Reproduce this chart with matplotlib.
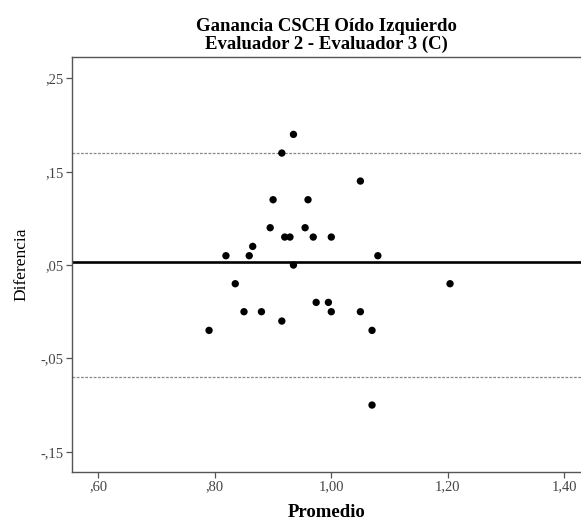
# Bland-Altman: Ganancia CSCH oído izquierdo, evaluador 2 vs evaluador 3
import numpy as np
import matplotlib
matplotlib.use("Agg")
import matplotlib.pyplot as plt
import matplotlib.ticker as ticker

promedio = [0.935, 0.915, 1.050, 0.900, 0.960, 0.895, 0.955, 0.920, 0.929, 0.969,
            1.000, 0.865, 0.819, 0.859, 1.080, 0.935, 0.835, 0.974, 0.995, 0.850,
            0.880, 1.000, 1.050, 0.915, 0.790, 1.070, 1.204, 1.070]
diferencia = [0.19, 0.17, 0.14, 0.12, 0.12, 0.09, 0.09, 0.08, 0.08, 0.08,
              0.08, 0.07, 0.06, 0.06, 0.06, 0.05, 0.03, 0.01, 0.01, 0.00,
              0.00, 0.00, 0.00, -0.01, -0.02, -0.02, 0.03, -0.10]

media = 0.0535
lim_sup = 0.170
lim_inf = -0.0697

xticks = [0.6, 0.8, 1.0, 1.2, 1.4]
yticks = [-0.15, -0.05, 0.05, 0.15, 0.25]


def spss_fmt(v, pos=None):
    s = "%.2f" % v
    s = s.replace(".", ",")
    if s.startswith("0,"):
        s = s[1:]
    elif s.startswith("-0,"):
        s = "-" + s[2:]
    return s


plt.rcParams['font.family'] = ['Liberation Serif', 'DejaVu Serif']

fig = plt.figure(figsize=(5.81, 5.2), dpi=100)
ax = fig.add_axes([0.1244, 0.0929, 0.8756, 0.7969])

ax.axhline(media, color='black', lw=1.9, zorder=2)
ax.axhline(lim_sup, color='#888888', lw=0.9, ls=(0, (2.2, 1.2)), zorder=1)
ax.axhline(lim_inf, color='#888888', lw=0.9, ls=(0, (2.2, 1.2)), zorder=1)
ax.scatter(promedio, diferencia, s=28, color='black', edgecolors='none', zorder=3)

ax.set_xlim(0.555, 1.429)
ax.set_ylim(-0.1714, 0.2726)
ax.xaxis.set_major_locator(ticker.FixedLocator(xticks))
ax.yaxis.set_major_locator(ticker.FixedLocator(yticks))
ax.xaxis.set_major_formatter(ticker.FuncFormatter(spss_fmt))
ax.yaxis.set_major_formatter(ticker.FuncFormatter(spss_fmt))

for s in ['left', 'bottom', 'top']:
    ax.spines[s].set_color('#555555')
    ax.spines[s].set_linewidth(1.0)
ax.spines['right'].set_visible(False)
ax.tick_params(direction='out', length=4, width=0.9, color='#555555',
               labelcolor='#444444', labelsize=10.5, pad=2)

ax.set_title('Ganancia CSCH Oído Izquierdo\nEvaluador 2 - Evaluador 3 (C)',
             fontsize=13.5, fontweight='bold', linespacing=1.05, pad=6)
ax.set_ylabel('Diferencia', fontsize=12.5, labelpad=8)
ax.set_xlabel('Promedio', fontsize=13.5, fontweight='bold', labelpad=8)

fig.savefig('out.png', dpi=100)
